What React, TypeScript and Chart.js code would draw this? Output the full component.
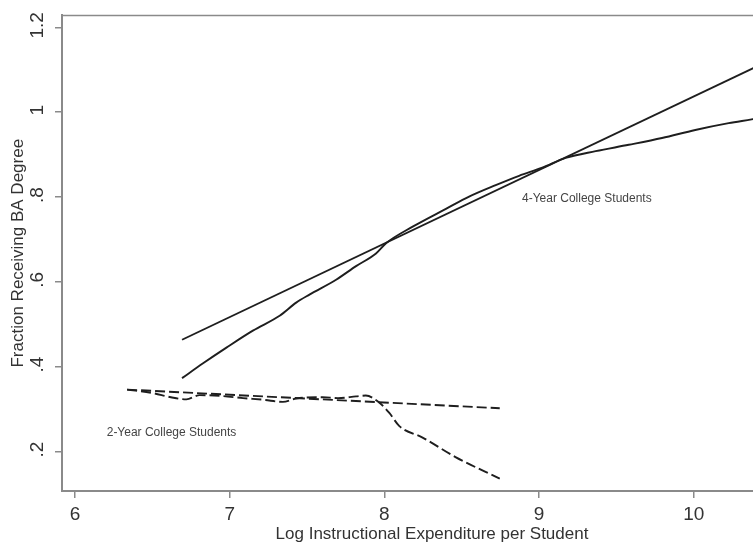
import React, { useEffect, useRef } from "react";
import { Chart, registerables } from "chart.js";

Chart.register(...registerables);

// Axis ticks
const X_TICKS = [6, 7, 8, 9, 10];
const Y_TICKS = [0.2, 0.4, 0.6, 0.8, 1.0, 1.2];

// 4-year college students: linear fit
const FOUR_FIT_X = [6.692, 10.45];
const FOUR_FIT_Y = [0.4635, 1.115];

// 4-year college students: smoothed (lowess) curve
const FOUR_CURVE_X = [6.692, 6.828, 6.979, 7.15, 7.323, 7.43, 7.516, 7.688, 7.817, 7.946, 8.011, 8.183, 8.398, 8.548, 8.72, 8.871, 9.021, 9.172, 9.366, 9.58, 9.795, 10.01, 10.226, 10.374, 10.45];
const FOUR_CURVE_Y = [0.373, 0.408, 0.445, 0.485, 0.52, 0.551, 0.57, 0.605, 0.637, 0.667, 0.691, 0.73, 0.772, 0.801, 0.828, 0.85, 0.869, 0.892, 0.908, 0.923, 0.939, 0.958, 0.974, 0.983, 0.988];

// 2-year college students: linear fit
const TWO_FIT_X = [6.337, 8.746];
const TWO_FIT_Y = [0.346, 0.302];

// 2-year college students: smoothed (lowess) curve
const TWO_CURVE_X = [6.337, 6.5, 6.62, 6.72, 6.806, 6.95, 7.086, 7.22, 7.344, 7.43, 7.6, 7.7, 7.817, 7.88, 7.968, 8.032, 8.097, 8.247, 8.46, 8.746];
const TWO_CURVE_Y = [0.346, 0.338, 0.328, 0.323, 0.333, 0.331, 0.326, 0.322, 0.317, 0.325, 0.328, 0.326, 0.33, 0.332, 0.315, 0.291, 0.26, 0.233, 0.187, 0.136];

// Text labels placed in data units
const ANNOTATIONS = [
  { text: "2-Year College Students", x: 6.205, y: 0.245 },
  { text: "4-Year College Students", x: 8.89, y: 0.795 },
];

const X_TITLE = "Log Instructional Expenditure per Student";
const Y_TITLE = "Fraction Receiving BA Degree";

const FONT = "'Liberation Sans', Arial, sans-serif";
const AXIS_COLOR = "#8a8a8a";
const TEXT_COLOR = "#333333";
const LINE_COLOR = "#1e1e1e";

const pts = (xs: number[], ys: number[]) => xs.map((x, i) => ({ x, y: ys[i] }));

const fmtY = (v: number) => {
  const s = String(Math.round(v * 10) / 10);
  return s.startsWith("0.") ? s.slice(1) : s;
};

const topBorder = {
  id: "topBorder",
  afterDraw(chart: any) {
    const { ctx, chartArea } = chart;
    ctx.save();
    ctx.strokeStyle = AXIS_COLOR;
    ctx.lineWidth = 1.5;
    ctx.beginPath();
    ctx.moveTo(chartArea.left, chartArea.top);
    ctx.lineTo(chartArea.right, chartArea.top);
    ctx.stroke();
    ctx.restore();
  },
};

const annotationText = {
  id: "annotationText",
  afterDatasetsDraw(chart: any) {
    const { ctx } = chart;
    const xs = chart.scales.x;
    const ys = chart.scales.y;
    ctx.save();
    ctx.font = `12px ${FONT}`;
    ctx.fillStyle = "#444444";
    ctx.textAlign = "left";
    ctx.textBaseline = "middle";
    for (const a of ANNOTATIONS) {
      ctx.fillText(a.text, xs.getPixelForValue(a.x), ys.getPixelForValue(a.y));
    }
    ctx.restore();
  },
};

export default function App() {
  const ref = useRef<HTMLCanvasElement | null>(null);

  useEffect(() => {
    if (!ref.current) return;
    const solid = { borderColor: LINE_COLOR, borderWidth: 1.9, pointRadius: 0, fill: false, tension: 0 };
    const dashed = { ...solid, borderDash: [10, 4] };
    const chart = new Chart(ref.current, {
      type: "line",
      data: {
        datasets: [
          { label: "4-year fit", data: pts(FOUR_FIT_X, FOUR_FIT_Y), ...solid },
          { label: "4-year lowess", data: pts(FOUR_CURVE_X, FOUR_CURVE_Y), ...solid, cubicInterpolationMode: "monotone" },
          { label: "2-year fit", data: pts(TWO_FIT_X, TWO_FIT_Y), ...dashed },
          { label: "2-year lowess", data: pts(TWO_CURVE_X, TWO_CURVE_Y), ...dashed, cubicInterpolationMode: "monotone" },
        ] as any,
      },
      options: {
        responsive: false,
        animation: false,
        devicePixelRatio: 1,
        layout: { padding: { top: 9, right: 13, left: 0, bottom: 0 } },
        plugins: { legend: { display: false }, tooltip: { enabled: false } },
        scales: {
          x: {
            type: "linear",
            min: 5.916,
            max: 10.7,
            afterBuildTicks: (s: any) => { s.ticks = X_TICKS.map((v) => ({ value: v })); },
            afterFit: (s: any) => { s.height = 54; },
            grid: { drawOnChartArea: false, drawTicks: true, tickLength: 7, color: AXIS_COLOR, lineWidth: 1.5 },
            border: { display: true, color: AXIS_COLOR, width: 2 },
            ticks: { color: TEXT_COLOR, font: { family: FONT, size: 19 }, padding: 5, maxRotation: 0, callback: (v: any) => String(v) },
            title: { display: true, text: X_TITLE, color: TEXT_COLOR, font: { family: FONT, size: 17 }, padding: { top: 0, bottom: 0 } },
          },
          y: {
            type: "linear",
            min: 0.107,
            max: 1.228,
            afterBuildTicks: (s: any) => { s.ticks = Y_TICKS.map((v) => ({ value: v })); },
            afterFit: (s: any) => { s.width = 62; },
            grid: { drawOnChartArea: false, drawTicks: true, tickLength: 7, color: AXIS_COLOR, lineWidth: 1.5 },
            border: { display: true, color: AXIS_COLOR, width: 2 },
            ticks: { color: TEXT_COLOR, font: { family: FONT, size: 19 }, padding: 4, labelOffset: -2, minRotation: 90, maxRotation: 90, crossAlign: "center", callback: (v: any) => fmtY(Number(v)) },
            title: { display: true, text: Y_TITLE, color: TEXT_COLOR, font: { family: FONT, size: 17 }, padding: { top: 8, bottom: 0 } },
          },
        },
      } as any,
      plugins: [topBorder, annotationText],
    });
    return () => chart.destroy();
  }, []);

  return (
    <div style={{ position: "fixed", left: 0, top: 0, width: 753, height: 545, overflow: "hidden", background: "#fff" }}>
      <canvas ref={ref} width={815} height={545} style={{ display: "block" }} />
    </div>
  );
}
